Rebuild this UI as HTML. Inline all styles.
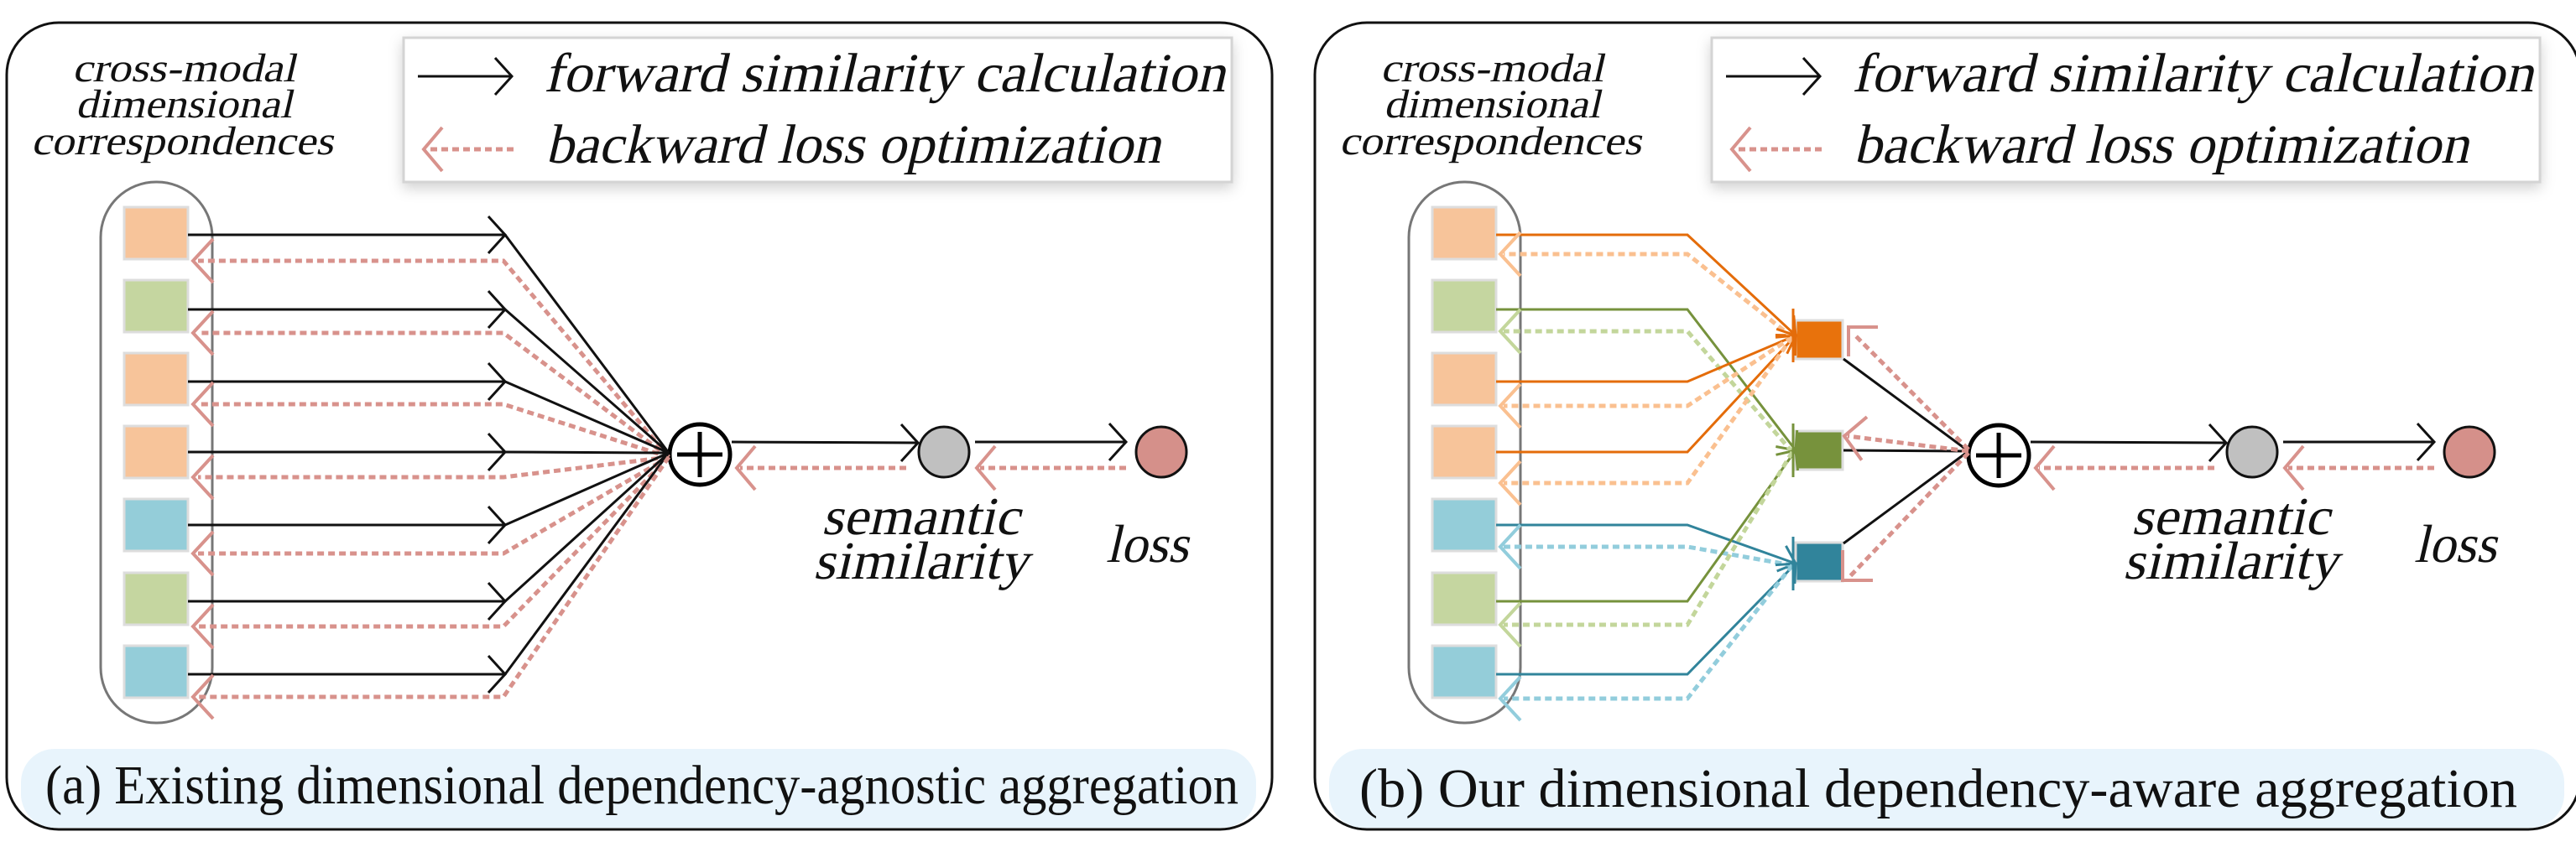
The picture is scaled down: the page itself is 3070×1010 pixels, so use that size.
<!DOCTYPE html>
<html><head><meta charset="utf-8"><style>
html,body{margin:0;padding:0;background:#fff;}
svg{display:block;}
svg text{font-family:"Liberation Serif","Times New Roman",serif !important;fill:#111;font-style:normal;}
</style></head><body>
<svg id="s" width="3070" height="1010" viewBox="0 0 3070 1010" xmlns="http://www.w3.org/2000/svg" font-family="Liberation Serif, serif">
<defs>
<filter id="sh" x="-5%" y="-20%" width="110%" height="150%"><feDropShadow dx="0" dy="6" stdDeviation="8" flood-color="#000" flood-opacity="0.18"/></filter>
</defs>
<g id="bg"></g>
<g font-family="Liberation Serif, serif">
<g transform="translate(219,97) skewX(-13)"><text font-family="Liberation Serif" font-size="48" text-anchor="middle" textLength="266" lengthAdjust="spacingAndGlyphs">cross-modal</text></g>
<g transform="translate(219,140) skewX(-13)"><text font-family="Liberation Serif" font-size="48" text-anchor="middle" textLength="258" lengthAdjust="spacingAndGlyphs">dimensional</text></g>
<g transform="translate(217,184) skewX(-13)"><text font-family="Liberation Serif" font-size="48" text-anchor="middle" textLength="360" lengthAdjust="spacingAndGlyphs">correspondences</text></g>
<g transform="translate(648,109) skewX(-13)"><text font-family="Liberation Serif" font-size="66" textLength="812" lengthAdjust="spacingAndGlyphs">forward similarity calculation</text></g>
<g transform="translate(650,194) skewX(-13)"><text font-family="Liberation Serif" font-size="66" textLength="733" lengthAdjust="spacingAndGlyphs">backward loss optimization</text></g>
<g transform="translate(1097,637) skewX(-13)"><text font-family="Liberation Serif" font-size="64" text-anchor="middle" textLength="236" lengthAdjust="spacingAndGlyphs">semantic</text></g>
<g transform="translate(1097,690) skewX(-13)"><text font-family="Liberation Serif" font-size="64" text-anchor="middle" textLength="256" lengthAdjust="spacingAndGlyphs">similarity</text></g>
<g transform="translate(1367,670) skewX(-13)"><text font-family="Liberation Serif" font-size="64" text-anchor="middle" textLength="98" lengthAdjust="spacingAndGlyphs">loss</text></g>
<text x="54" y="958" font-size="66" textLength="1422" lengthAdjust="spacingAndGlyphs">(a) Existing dimensional dependency-agnostic aggregation</text>
</g>
<g font-family="Liberation Serif, serif">
<g transform="translate(1778,97) skewX(-13)"><text font-family="Liberation Serif" font-size="48" text-anchor="middle" textLength="266" lengthAdjust="spacingAndGlyphs">cross-modal</text></g>
<g transform="translate(1778,140) skewX(-13)"><text font-family="Liberation Serif" font-size="48" text-anchor="middle" textLength="258" lengthAdjust="spacingAndGlyphs">dimensional</text></g>
<g transform="translate(1776,184) skewX(-13)"><text font-family="Liberation Serif" font-size="48" text-anchor="middle" textLength="360" lengthAdjust="spacingAndGlyphs">correspondences</text></g>
<g transform="translate(2207,109) skewX(-13)"><text font-family="Liberation Serif" font-size="66" textLength="812" lengthAdjust="spacingAndGlyphs">forward similarity calculation</text></g>
<g transform="translate(2209,194) skewX(-13)"><text font-family="Liberation Serif" font-size="66" textLength="733" lengthAdjust="spacingAndGlyphs">backward loss optimization</text></g>
<g transform="translate(2658,637) skewX(-13)"><text font-family="Liberation Serif" font-size="64" text-anchor="middle" textLength="236" lengthAdjust="spacingAndGlyphs">semantic</text></g>
<g transform="translate(2658,690) skewX(-13)"><text font-family="Liberation Serif" font-size="64" text-anchor="middle" textLength="256" lengthAdjust="spacingAndGlyphs">similarity</text></g>
<g transform="translate(2926,670) skewX(-13)"><text font-family="Liberation Serif" font-size="64" text-anchor="middle" textLength="98" lengthAdjust="spacingAndGlyphs">loss</text></g>
<text x="1620" y="962" font-size="66" textLength="1380" lengthAdjust="spacingAndGlyphs">(b) Our dimensional dependency-aware aggregation</text>
</g>
<g id="fg"></g>
</svg>
<script>
var NS="http://www.w3.org/2000/svg";
var bg=document.getElementById('bg'),fg=document.getElementById('fg');
function el(p,t,a){var e=document.createElementNS(NS,t);for(var k in a)e.setAttribute(k,a[k]);p.appendChild(e);return e;}
function line(p,pts,c,w,dash){return el(p,'polyline',{points:pts.map(function(q){return q.join(',')}).join(' '),fill:'none',stroke:c,'stroke-width':w,'stroke-dasharray':dash||'none','stroke-linejoin':'miter'});}
function chev(p,x,y,ang,c,w,L,H){
 var ca=Math.cos(ang),sa=Math.sin(ang);
 var bx=x-ca*L,by=y-sa*L;
 var p1=[bx-sa*H,by+ca*H],p2=[bx+sa*H,by-ca*H];
 el(p,'polyline',{points:p1.join(',')+' '+x+','+y+' '+p2.join(','),fill:'none',stroke:c,'stroke-width':w});
}
var PINK='#d8928c',DASH='8 5';
var F=[280,369,455,539,626,717,804],D=[311,397,482,569,660,747,831];
var SQY=[247,334,421,508,595,683,770];
var COL=['#f7c49a','#c5d6a0','#f7c49a','#f7c49a','#94cdd9','#c5d6a0','#94cdd9'];
function common(o,ox,oy){
 el(bg,'rect',{x:8+o,y:27,width:1508,height:962,rx:62,ry:62,fill:'#fff',stroke:'#111','stroke-width':3});
 el(bg,'rect',{x:25+o,y:893,width:1472,height:94,rx:40,ry:40,fill:'#e8f4fc'});
 el(bg,'rect',{x:481+o,y:45,width:987,height:172,fill:'#fff',stroke:'#d4d4d4','stroke-width':3,filter:'url(#sh)'});
 line(fg,[[498+o,91],[610+o,91]],'#111',3);chev(fg,610+o,91,0,'#111',3,20,22);
 line(fg,[[612+o,178],[510+o,178]],PINK,5,DASH);chev(fg,505+o,178,Math.PI,PINK,4,22,26);
 el(fg,'rect',{x:120+o,y:217,width:133,height:645,rx:66,ry:66,fill:'none',stroke:'#777','stroke-width':3});
 for(var i=0;i<7;i++)el(fg,'rect',{x:148+o,y:SQY[i],width:76,height:62,fill:COL[i],stroke:'#ddd','stroke-width':3});
 el(fg,'circle',{cx:ox,cy:oy,r:36,fill:'#fff',stroke:'#000','stroke-width':5});
 el(fg,'line',{x1:ox-27,y1:oy,x2:ox+27,y2:oy,stroke:'#000','stroke-width':5});
 el(fg,'line',{x1:ox,y1:oy-27,x2:ox,y2:oy+27,stroke:'#000','stroke-width':5});
 line(fg,[[ox+38,527],[1094+o,528]],'#111',3);chev(fg,1094+o,528,0,'#111',3,20,22);
 el(fg,'ellipse',{cx:1125+o,cy:539,rx:30,ry:30,fill:'#c0c0c0',stroke:'#111','stroke-width':3});
 line(fg,[[1162+o,527],[1342+o,527]],'#111',3);chev(fg,1342+o,527,0,'#111',3,20,22);
 el(fg,'ellipse',{cx:1384+o,cy:539,rx:30,ry:30,fill:'#d5908a',stroke:'#111','stroke-width':3});
 line(fg,[[1342+o,558],[1168+o,558]],PINK,5,DASH);chev(fg,1164+o,558,Math.PI,PINK,4,22,26);
 line(fg,[[1080+o,558],[ox+48,558]],PINK,5,DASH);chev(fg,ox+44,558,Math.PI,PINK,4,22,26);
}
common(0,834,542);
for(var i=0;i<7;i++){
 line(fg,[[224,F[i]],[602,F[i]],[797,540]],'#111',3);chev(fg,602,F[i],0,'#111',3,20,22);
 line(fg,[[797,545],[600,D[i]],[236,D[i]]],PINK,5,DASH);chev(fg,230,D[i],Math.PI,PINK,4,24,26);
}
var o=1559;common(o,2382,543);
var AG=[[382,'#e8720c',400],[514,'#77923c',537],[647,'#31849b',672]];
AG.forEach(function(a){el(fg,'rect',{x:2140,y:a[0],width:56,height:46,fill:a[1],stroke:'#ddd','stroke-width':3});});
var MAP=[0,1,0,0,2,1,2];
var FC=['#e46c0a','#76923c','#31849b'],DC=['#fac090','#c3d69b','#92cddc'];
var DY=[303,395,484,576,652,745,833];
for(var i=0;i<7;i++){
 var k=MAP[i],ty=AG[k][2];
 line(fg,[[1783,F[i]],[2011,F[i]],[2140,ty]],FC[k],3);
 chev(fg,2140,ty,Math.atan2(ty-F[i],2140-2011),FC[k],3,18,16);
 line(fg,[[2136,ty+2],[2011,DY[i]],[1792,DY[i]]],DC[k],5,DASH);
 chev(fg,1788,DY[i],Math.PI,DC[k],4,24,26);
}
[[400],[537],[672]].forEach(function(a,j){el(fg,'line',{x1:2137,y1:a[0]-32,x2:2137,y2:a[0]+32,stroke:FC[j],'stroke-width':3});});
line(fg,[[2197,428],[2346,538]],'#111',3);
line(fg,[[2197,537],[2346,538]],'#111',3);
line(fg,[[2197,648],[2346,538]],'#111',3);
line(fg,[[2346,536],[2210,399]],PINK,5,DASH);
el(fg,'polyline',{points:'2238,390 2203,390 2203,425',fill:'none',stroke:PINK,'stroke-width':4});
line(fg,[[2346,538],[2202,520]],PINK,5,DASH);chev(fg,2198,520,Math.atan2(520-538,2198-2346),PINK,4,24,26);
line(fg,[[2346,540],[2204,688]],PINK,5,DASH);
el(fg,'polyline',{points:'2196,656 2196,692 2232,692',fill:'none',stroke:PINK,'stroke-width':4});
</script>
</body></html>
